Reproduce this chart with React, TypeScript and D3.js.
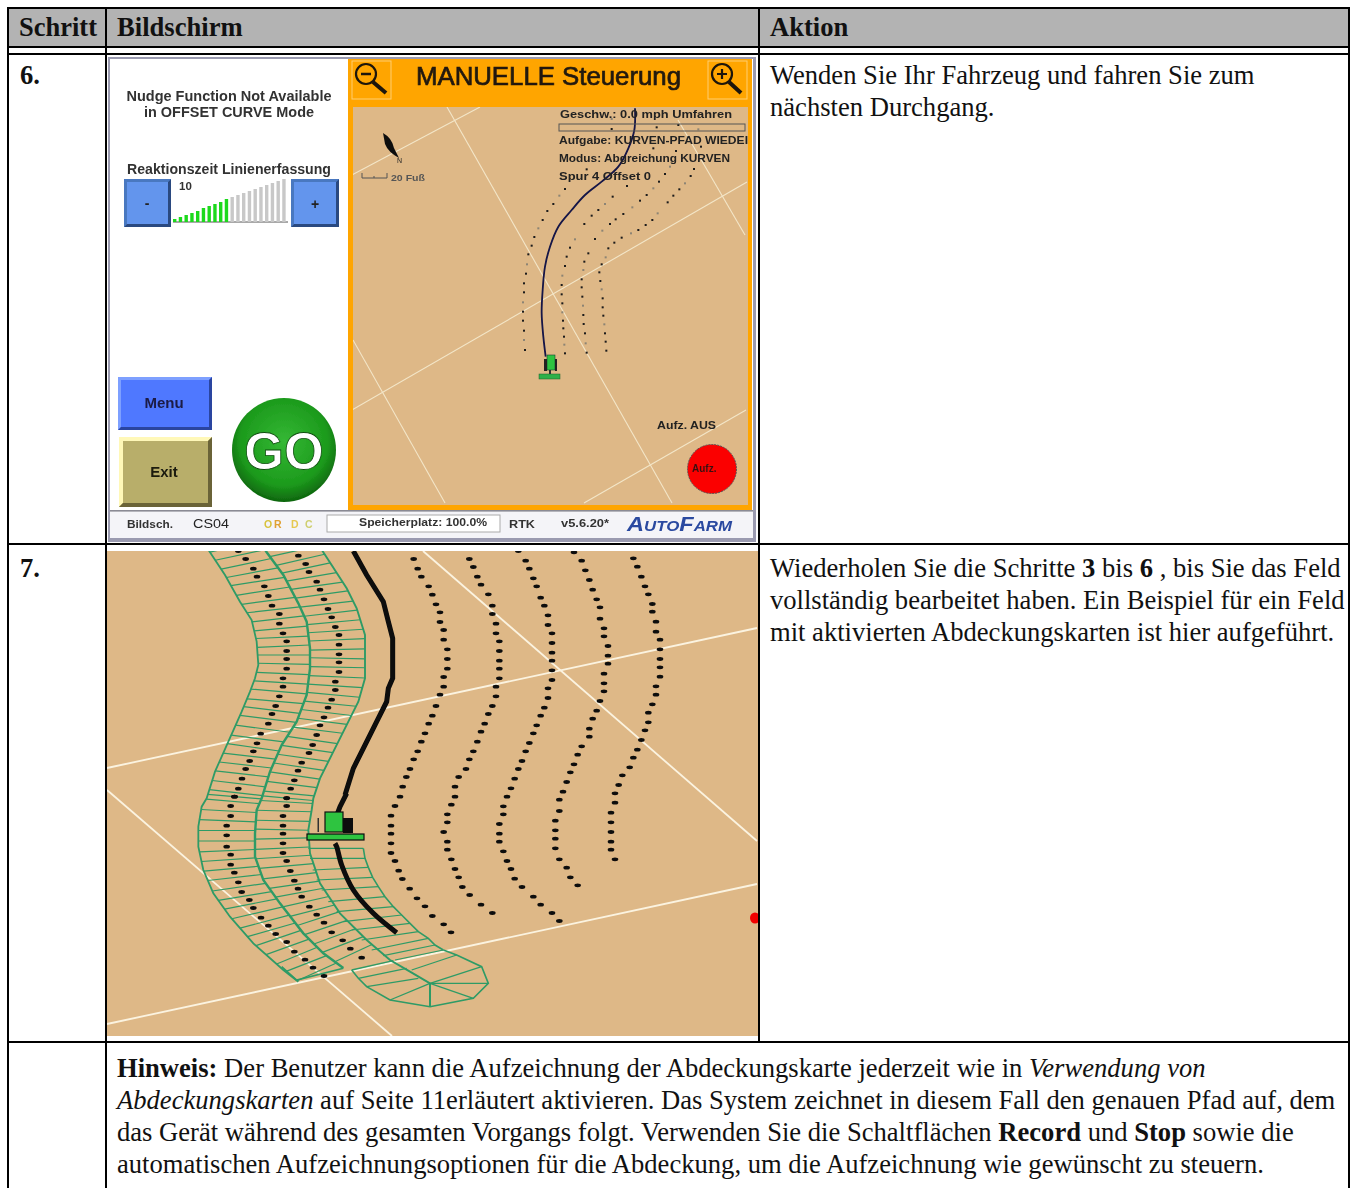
import React from "react";
import * as d3 from "d3";

// ---- table text
const headers = ["Schritt", "Bildschirm", "Aktion"];
const stepLabels = ["6.", "7."];
const step6Lines = ["Wenden Sie Ihr Fahrzeug und fahren Sie zum", "nächsten Durchgang."];

type P = [number, number];
const fieldA: P[] = [[700,40],[712,65],[724,95],[735,124],[745,148],[757,177],[757,200],[768,230],[768,260],[780,284],[780,313],[780,342],[780,367],[780,395],[768,424],[768,449],[757,478],[745,503],[745,532],[735,556],[724,585],[712,614],[700,638],[689,667],[667,691],[656,720],[645,745],[645,773],[633,803],[633,832],[633,861],[633,890],[633,914],[645,943]];
const fieldB: P[] = [[522,22],[545,47],[556,76],[568,105],[578,134],[590,163],[600,187],[600,221],[612,250],[612,274],[624,303],[624,332],[624,356],[612,386],[612,415],[612,439],[600,468],[590,497],[578,521],[568,551],[568,575],[545,604],[533,629],[522,658],[511,682],[500,711],[489,740],[478,764],[478,798],[466,827],[466,856],[466,881],[466,910],[478,943],[500,968],[511,997],[533,1021]];
const fieldC: P[] = [[355,18],[377,47],[388,71],[400,100],[410,124],[422,158],[433,182],[444,211],[444,240],[456,265],[456,294],[456,323],[456,347],[456,376],[456,405],[444,430],[444,459],[433,488],[422,512],[410,541],[400,565],[388,594],[377,619],[366,648],[355,672],[344,701],[333,730],[321,755],[310,784],[310,808],[298,837],[298,866],[298,890],[310,919],[321,948],[333,972],[344,1001],[366,1026],[400,1055],[422,1079],[456,1104],[478,1128]];
const fieldD: P[] = [[208,42],[220,66],[232,95],[243,119],[265,148],[277,182],[277,207],[288,236],[288,265],[298,289],[298,318],[298,347],[298,371],[298,400],[288,425],[288,454],[277,483],[265,507],[254,536],[243,560],[232,590],[220,619],[208,643],[198,672],[176,696],[165,725],[165,755],[154,779],[142,808],[142,832],[131,861],[142,890],[142,914],[154,943],[165,972],[176,997],[187,1026],[209,1050],[243,1079],[277,1104]];
const fieldE: P[] = [[41,42],[53,71],[64,95],[86,124],[97,149],[108,178],[120,202],[120,231],[131,255],[131,284],[142,313],[142,342],[142,371],[131,396],[131,425],[120,449],[108,483],[97,512],[86,536],[75,565],[64,590],[53,619],[41,643],[30,672],[19,696],[8,725],[0,755]];
const fieldELower: P[] = [[645,48],[633,77],[633,107],[633,131],[633,160],[633,189],[645,213],[656,242],[667,267],[689,296],[711,325],[735,349],[757,378],[791,403],[813,427]];

const passOneTop: P[] = [[395,-10],[415,18],[437,42],[460,71],[471,95],[493,124],[505,153],[516,182],[538,207],[538,236],[549,265],[560,289],[560,318],[560,342],[560,371],[549,400],[549,425],[538,454],[527,483],[516,507],[505,536],[482,566],[471,595],[460,619],[449,648],[437,672],[426,701],[415,731],[404,755]];
const passOneLow: P[] = [[163,20],[152,48],[152,78],[140,107],[140,136],[140,170],[152,194],[152,224],[163,248],[175,277],[185,306],[208,330],[220,354],[243,383],[265,407],[287,432],[320,456],[343,485],[375,509],[399,533],[432,558]];
const passTwoTop: P[] = [[570,5],[595,32],[617,57],[627,81],[650,110],[660,134],[672,163],[684,192],[695,217],[706,246],[717,270],[717,299],[717,328],[717,352],[717,381],[706,410],[706,435],[695,464],[684,488],[672,517],[660,541],[650,570],[638,600],[627,624],[605,653],[594,677],[583,706],[572,731],[560,760]];
const passTwoLow: P[] = [[320,24],[320,48],[309,78],[309,107],[309,131],[309,160],[309,189],[320,213],[331,243],[343,272],[354,296],[365,320],[388,350],[410,374],[432,398],[455,427],[488,451],[511,476],[545,503]];

const leftEdgeTop: P[] = [[310,-10],[330,22],[375,90],[420,170],[455,225],[470,290],[475,360],[465,400],[450,440],[425,500],[385,590],[345,680],[320,760]];
const leftEdgeLow: P[] = [[65,50],[55,110],[55,170],[70,240],[100,310],[150,380],[220,460],[310,540],[355,575]];
const midEdgeTop: P[] = [[480,-10],[500,22],[550,90],[595,175],[620,230],[630,310],[630,370],[620,450],[590,530],[545,600],[510,680],[485,760]];
const midEdgeLow: P[] = [[230,60],[225,130],[225,200],[250,270],[300,340],[370,430],[430,490],[490,534]];
const rightEdgeTop: P[] = [[650,-10],[670,22],[740,130],[770,190],[795,270],[795,400],[775,470],[745,530],[700,620],[660,700],[640,760]];
const rightEdgeLow: P[] = [[395,60],[385,120],[390,190],[420,280],[480,370],[560,450],[630,510],[690,545],[750,580]];

const passThreeIn: P[] = [[385,175],[390,205],[398,240],[410,270],[425,300],[445,335],[470,365],[490,395],[515,420],[545,450],[575,480],[610,497],[645,510]];
const passThreeOut: P[] = [[550,175],[555,205],[565,232],[578,262],[595,290],[615,320],[640,350],[665,375],[690,400],[715,425],[745,445],[765,465],[790,480]];

// tail of the coverage, crop at (280,900)
const tailOutline: P[] = [[215,210],[235,235],[260,260],[330,300],[450,320],[580,295],[625,250],[605,200],[530,165],[490,150]];
const tailHub: P = [450, 250];
const tailSpokes: P[] = [[330,300],[450,320],[580,295],[625,250],[605,200]];
const tailRungs: [P, P][] = [[[215,210],[340,182]],[[235,235],[380,205]],[[260,260],[415,235]],[[395,210],[530,165]]];
const passOneEnd: P[] = [[5,200],[50,240],[190,205]];

const trackTop: P[] = [[760,18],[800,90],[850,170],[865,230],[878,280],[878,400],[865,430],[860,470],[830,530],[790,610],[760,670],[735,750]];
const trackMid: P[] = [[500,10],[480,50],[465,90]];
const trackLow: P[] = [[465,160],[470,170],[485,225],[520,300],[580,370],[650,428]];

const bigLines: [P, P][] = [[[107,768],[757,628]],[[423,551],[757,841]],[[107,1024],[757,884]],[[107,790],[392,1036]]];

// ---- first screen
const smallDotsA: P[] = [[660,417],[643,437],[625,462],[607,483],[593,510],[580,535],[568,561],[560,587],[550,613],[546,643],[543,671],[537,700],[537,727],[534,757],[534,785],[534,812],[537,842],[537,870],[540,900]];
const smallDotsB: P[] = [[846,408],[803,440],[780,462],[760,480],[740,497],[718,522],[690,568],[675,593],[665,620],[660,648],[652,677],[650,705],[650,733],[652,760],[652,787],[654,812],[655,835],[657,860],[658,884],[660,910]];
const smallDotsC: P[] = [[905,435],[885,452],[862,472],[835,492],[812,508],[795,522],[772,542],[750,567],[730,610],[718,635],[715,660],[710,688],[710,712],[712,740],[714,767],[715,795],[716,822],[720,850],[722,880],[725,908]];
const smallDotsD: P[] = [[1047,357],[1037,378],[1020,400],[1003,418],[985,437],[968,457],[938,490],[922,510],[902,525],[880,540],[858,550],[830,563],[808,578],[790,595],[782,622],[770,643],[763,667],[766,693],[770,718],[773,745],[773,772],[775,797],[778,823],[780,850],[782,875],[784,902]];
const smallDotsExtra: P[] = [[800,207],[800,237],[935,232],[1000,225],[1060,238],[925,295],[1068,290],[993,303],[975,350],[725,358],[960,372],[942,395],[925,415]];
const smallPath: P[] = [[870,175],[868,240],[850,295],[820,350],[770,395],[720,435],[680,480],[640,530],[615,590],[600,650],[593,720],[590,790],[595,860],[602,920]];
const smallLines: [P, P][] = [[[447,107],[672,503]],[[480,107],[352,175]],[[353,340],[445,503]],[[352,410],[747,182]],[[678,120],[745,235]],[[584,503],[746,410]]];
const sliderHeights = [3,5,7,9,11,14,16,18,20,23,25,27,29,31,33,35,37,39,41,43];
const sliderGreen = 10;

const sand = "#deb887";
const swath = "#2e9b66";

const fromCrop = (x0: number, y0: number) => {
  const x = d3.scaleLinear().domain([0, 3]).range([x0, x0 + 1]);
  const y = d3.scaleLinear().domain([0, 3]).range([y0, y0 + 1]);
  return (p: P): P => [x(p[0]), y(p[1])];
};
const crop4 = fromCrop(100, 545);
const crop5 = fromCrop(180, 790);
const crop6 = fromCrop(400, 545);
const crop2 = fromCrop(345, 50);
const crop7 = fromCrop(280, 900);

const lineGen = d3.line<P>().x((d) => d[0]).y((d) => d[1]);
const curveGen = d3.line<P>().x((d) => d[0]).y((d) => d[1]).curve(d3.curveCatmullRom);

const edgeX = (edge: P[]) => d3.scaleLinear().domain(edge.map((p) => p[1])).range(edge.map((p) => p[0])).clamp(true);

// cross bars between two edges, one between each pair of recorded centre dots
function rungs(dots: P[], leftE: P[], rightE: P[]): [P, P][] {
  const lx = edgeX(leftE);
  const rx = edgeX(rightE);
  const out: [P, P][] = [];
  for (let i = 0; i < dots.length - 1; i++) {
    const p0 = dots[Math.max(0, i - 2)];
    const p1 = dots[Math.min(dots.length - 1, i + 3)];
    const s = (p1[0] - p0[0]) / (p1[1] - p0[1] || 1);
    const t = 7.3 * s;
    const y = (dots[i][1] + dots[i + 1][1]) / 2;
    out.push([[lx(y + t), y + t], [rx(y - t), y - t]]);
  }
  return out;
}

const Bevel = ({ x, y, w, h, fill, light, dark, b = 3 }: any) => (
  <g>
    <rect x={x} y={y} width={w} height={h} fill={fill} />
    <polygon points={`${x},${y} ${x + w},${y} ${x + w - b},${y + b} ${x + b},${y + b} ${x + b},${y + h - b} ${x},${y + h}`} fill={light} />
    <polygon points={`${x + w},${y + h} ${x},${y + h} ${x + b},${y + h - b} ${x + w - b},${y + h - b} ${x + w - b},${y + b} ${x + w},${y}`} fill={dark} />
  </g>
);

const Scr = ({ x, y, s = 12, w = "bold", a, fill = "#222", children, len }: any) => (
  <text x={x} y={y} fontFamily="'Liberation Sans', Arial, sans-serif" fontSize={s} fontWeight={w} textAnchor={a} fill={fill} textLength={len} lengthAdjust={len ? "spacingAndGlyphs" : undefined}>{children}</text>
);

function Screen1() {
  const dots = [smallDotsA, smallDotsB, smallDotsC, smallDotsD, smallDotsExtra].flat().map(crop2);
  const path = smallPath.map(crop2);
  const x = d3.scaleLinear().domain([0, sliderHeights.length]).range([173, 288]);
  return (
    <g filter="url(#blurA)">
      <rect x={108} y={57} width={648} height={485} fill="#9a9ab0" />
      <rect x={110} y={59} width={643} height={479} fill="#fff" />
      <rect x={348} y={59} width={404} height={451} fill="#ffa500" />
      <rect x={353} y={107} width={395} height={398} fill={sand} />
      <rect x={110} y={511} width={643} height={27} fill="#f4f4f8" />
      <rect x={110} y={510} width={643} height={1.6} fill="#8a8a94" />
      <g clipPath="url(#clipSmall)">
        {smallLines.map((l, i) => <path key={i} d={lineGen(l) || ""} stroke="#f3e6c8" strokeWidth={1.1} fill="none" />)}
      </g>
      {dots.map((d, i) => <rect key={i} x={d[0] - 1} y={d[1] - 1} width={2} height={2} fill={i % 4 === 1 ? "#8c8474" : "#1a1a1a"} />)}
      <path d={curveGen(path) || ""} stroke="#141446" strokeWidth={1.8} fill="none" />

      {/* tractor */}
      <rect x={547} y={355} width={8} height={15} fill="#2fc43f" stroke="#143" strokeWidth={0.6} />
      <rect x={544} y={359} width={3} height={12} fill="#222" />
      <rect x={555} y={359} width={2} height={12} fill="#222" />
      <rect x={539} y={374} width={21} height={5} fill="#2fb04a" stroke="#1a5f2a" strokeWidth={0.5} />
      <rect x={549} y={370} width={2} height={4} fill="#333" />

      {/* header */}
      <text x={416} y={85} fontFamily="'Liberation Sans', sans-serif" fontSize={25.5} fill="#221a10" stroke="#221a10" strokeWidth={0.7} textLength={265} lengthAdjust="spacingAndGlyphs">MANUELLE Steuerung</text>
      <g stroke="#ffce70" fill="none"><rect x={352} y={61} width={39} height={38} /><rect x={708} y={61} width={39} height={38} /></g>
      <g stroke="#1c1408" fill="none" strokeWidth={2.2}>
        <circle cx={366} cy={74} r={10} /><path d="M373 82 L386 93" strokeWidth={4} /><path d="M361 74 H371" strokeWidth={2.5} />
        <circle cx={722} cy={74} r={10} /><path d="M729 82 L741 93" strokeWidth={4} /><path d="M717 74 H727 M722 69 V79" strokeWidth={2.2} />
      </g>

      {/* compass and scale */}
      <path d="M383 133 Q392 138 394 148 L399 158 Q388 152 385 144 Z" fill="#111" />
      <Scr x={397} y={163} s={7} w="normal">N</Scr>
      <path d="M362 173 V178 H387 V173 M374 176 V178" stroke="#555" fill="none" />
      <Scr x={391} y={181} s={9.5} fill="#555" len={34}>20 Fuß</Scr>

      {/* overlay */}
      <Scr x={560} y={118} s={11.5} len={172}>Geschw.: 0.0 mph Umfahren</Scr>
      <rect x={559} y={124} width={186} height={7} fill="none" stroke="#555" />
      <Scr x={559} y={144} s={11.5} len={189}>Aufgabe: KURVEN-PFAD WIEDEI</Scr>
      <Scr x={559} y={162} s={11.5} len={171}>Modus: Abgreichung KURVEN</Scr>
      <Scr x={559} y={180} s={11.5} len={92}>Spur 4 Offset 0</Scr>
      <Scr x={657} y={429} s={11.5} len={59}>Aufz. AUS</Scr>
      <circle cx={712} cy={469} r={24.5} fill="#fb0000" stroke="#555" strokeDasharray="2 1" />
      <Scr x={692} y={472} s={10} fill="#3a1010">Aufz.</Scr>

      {/* left column */}
      <Scr x={229} y={101} s={14} a="middle" fill="#333" len={205}>Nudge Function Not Available</Scr>
      <Scr x={229} y={117} s={14} a="middle" fill="#333" len={170}>in OFFSET CURVE Mode</Scr>
      <Scr x={229} y={174} s={14.5} a="middle" fill="#333" len={204}>Reaktionszeit Linienerfassung</Scr>
      <Scr x={179} y={190} s={11.5} w="bold" fill="#333">10</Scr>
      <Bevel x={124} y={179} w={47} h={48} fill="#6495ed" light="#4a78c0" dark="#2a4a80" />
      <Bevel x={291} y={179} w={48} h={48} fill="#6495ed" light="#4a78c0" dark="#2a4a80" />
      <Scr x={147} y={208} s={14} a="middle">-</Scr>
      <Scr x={315} y={209} s={14} a="middle">+</Scr>
      <path d="M173 222 H288" stroke="#555" />
      {sliderHeights.map((h, i) => (
        <rect key={i} x={x(i)} y={222 - h} width={3.4} height={h} fill={i < sliderGreen ? "#1fd91f" : "#c8c8c8"} />
      ))}
      <Bevel x={118} y={377} w={94} h={53} fill="#4f78ff" light="#7ea0ff" dark="#2a44a0" />
      <Scr x={164} y={408} s={15} a="middle" fill="#1a1a44">Menu</Scr>
      <Bevel x={119} y={437} w={93} h={70} fill="#b8ae6a" light="#fff8b8" dark="#6a6438" b={4} />
      <Scr x={164} y={477} s={15} a="middle" fill="#1a1a10">Exit</Scr>

      {/* GO */}
      <circle cx={284} cy={450} r={52} fill="url(#goFill)" />
      <text x={284} y={469} textAnchor="middle" fontFamily="'Liberation Sans', sans-serif" fontWeight="bold" fontSize={51} fill="#fff" stroke="#0d4d0d" strokeWidth={0.8}>GO</text>

      {/* status */}
      <Scr x={127} y={528} s={10.5} fill="#333" len={46}>Bildsch.</Scr>
      <Scr x={193} y={528} s={13} w="normal" fill="#222" len={36}>CS04</Scr>
      <Scr x={264} y={528} s={10.5} fill="#d8c23c">O</Scr>
      <Scr x={274} y={528} s={10.5} fill="#e0a030">R</Scr>
      <Scr x={291} y={528} s={10.5} fill="#e6c850">D</Scr>
      <Scr x={305} y={528} s={10.5} fill="#cfcf70">C</Scr>
      <rect x={327} y={515} width={173} height={17} fill="#fff" stroke="#aaa" />
      <Scr x={359} y={526} s={10.5} fill="#333" len={128}>Speicherplatz: 100.0%</Scr>
      <Scr x={509} y={528} s={10.5} fill="#333" len={26}>RTK</Scr>
      <Scr x={561} y={527} s={10} fill="#333" len={48}>v5.6.20*</Scr>
      <text x={627} y={531} fontFamily="'Liberation Sans', sans-serif" fontWeight="bold" fontStyle="italic" fontSize={21} fill="#2a4aa0" textLength={105} lengthAdjust="spacingAndGlyphs">
        A<tspan fontSize={15}>UTO</tspan>F<tspan fontSize={15}>ARM</tspan>
      </text>
    </g>
  );
}

function Screen2() {
  const one = [...passOneTop.map(crop4), ...passOneLow.map(crop5)];
  const two = [...passTwoTop.map(crop4), ...passTwoLow.map(crop5)];
  const left = [...leftEdgeTop.map(crop4), ...leftEdgeLow.map(crop5)];
  const mid = [...midEdgeTop.map(crop4), ...midEdgeLow.map(crop5)];
  const right = [...rightEdgeTop.map(crop4), ...rightEdgeLow.map(crop5)];
  const rOne = rungs(one, left, mid);
  const rTwo = rungs(two, mid, right);
  const inner = passThreeIn.map(crop5);
  const outer = passThreeOut.map(crop5);
  const hub = crop7(tailHub);
  const fieldDots = [fieldA, fieldB, fieldC, fieldD, fieldE].flat().map(crop6).concat(fieldELower.map(crop5));
  const swathDots = [...one.slice(1), ...two.slice(1)];
  return (
    <g filter="url(#blurB)" clipPath="url(#clipBig)">
      <rect x={107} y={551} width={651} height={485} fill={sand} />
      {bigLines.map((l, i) => <path key={i} d={lineGen(l) || ""} stroke="#fbf3e0" strokeWidth={1.8} fill="none" />)}
      <g stroke={swath} fill="none">
        {[...rOne, ...rTwo].map((r, i) => <path key={"r" + i} d={lineGen(r) || ""} strokeWidth={1.2} />)}
        <path d={lineGen(left) || ""} strokeWidth={1.8} />
        <path d={lineGen(mid) || ""} strokeWidth={2.4} />
        <path d={lineGen(right) || ""} strokeWidth={1.9} />
        {inner.map((p, i) => <path key={"c" + i} d={lineGen([p, outer[i]]) || ""} strokeWidth={1.2} />)}
        <path d={lineGen(outer) || ""} strokeWidth={1.6} />
        <path d={lineGen(tailOutline.map(crop7)) || ""} strokeWidth={1.6} />
        <path d={lineGen(passOneEnd.map(crop7)) || ""} strokeWidth={1.6} />
        {tailRungs.map((r, i) => <path key={"t" + i} d={lineGen(r.map(crop7) as P[]) || ""} strokeWidth={1.3} />)}
        {tailSpokes.map((p, i) => <path key={"f" + i} d={lineGen([hub, crop7(p)]) || ""} strokeWidth={i === 1 ? 2 : 1.3} />)}
      </g>
      {[...fieldDots, ...swathDots].map((d, i) => <ellipse key={i} cx={d[0]} cy={d[1]} rx={3.3} ry={1.9} fill="#0c0c0c" />)}
      <g fill="none" stroke="#0a0a0a" strokeWidth={5}>
        <path d={lineGen(trackTop.map(crop4)) || ""} />
        <path d={lineGen(trackMid.map(crop5)) || ""} />
        <path d={curveGen(trackLow.map(crop5)) || ""} />
      </g>
      {/* tractor */}
      <rect x={325} y={812} width={18} height={20} fill="#2fc43f" stroke="#111" strokeWidth={1.2} />
      <rect x={343} y={818} width={10} height={15} fill="#0a0a0a" />
      <rect x={317.5} y={818} width={1.5} height={14} fill="#333" />
      <rect x={307} y={834} width={57} height={6} fill="#2fc43f" stroke="#0c0c0c" strokeWidth={1.2} />
      <ellipse cx={755} cy={918} rx={5} ry={5.5} fill="#f00000" />
    </g>
  );
}

export default function App() {
  const serif = "'Liberation Serif', 'Times New Roman', serif";
  const ts = { fontFamily: serif, fontSize: 26.6, fill: "#111" };
  return (
    <svg width={1353} height={1188} style={{ position: "absolute", left: 0, top: 0, display: "block", background: "#fff" }}>
      <defs>
        <filter id="blurA" x="-2%" y="-2%" width="104%" height="104%"><feGaussianBlur stdDeviation={0.7} /></filter>
        <filter id="blurB" x="-2%" y="-2%" width="104%" height="104%"><feGaussianBlur stdDeviation={0.45} /></filter>
        <clipPath id="clipSmall"><rect x={353} y={107} width={395} height={398} /></clipPath>
        <clipPath id="clipBig"><rect x={107} y={551} width={651} height={485} /></clipPath>
        <radialGradient id="goFill" cx="50%" cy="42%" r="60%">
          <stop offset="0%" stopColor="#35b835" /><stop offset="70%" stopColor="#1c9a1c" /><stop offset="100%" stopColor="#0d5f0d" />
        </radialGradient>
      </defs>

      <rect x={8} y={8} width={1341} height={39} fill="#b3b3b3" />
      <Screen1 />
      <Screen2 />

      <g stroke="#000" strokeWidth={2} fill="none">
        <path d="M8 8 H1350" />
        <path d="M8 47 H1350 M8 54 H1350 M8 544 H1350 M8 1042 H1350" />
        <path d="M8 7 V1188 M106 8 V1188 M759 8 V1042 M1349 7 V1188" />
      </g>

      <g {...ts}>
        <text x={19} y={36} fontWeight="bold" textLength={78} lengthAdjust="spacingAndGlyphs">{headers[0]}</text>
        <text x={117} y={36} fontWeight="bold">{headers[1]}</text>
        <text x={770} y={36} fontWeight="bold">{headers[2]}</text>
        <text x={20} y={84} fontWeight="bold">{stepLabels[0]}</text>
        <text x={20} y={577} fontWeight="bold">{stepLabels[1]}</text>
        <text x={770} y={84}>{step6Lines[0]}</text>
        <text x={770} y={116}>{step6Lines[1]}</text>
        <text x={770} y={577}>Wiederholen Sie die Schritte <tspan fontWeight="bold">3</tspan> bis <tspan fontWeight="bold">6</tspan> , bis Sie das Feld</text>
        <text x={770} y={609}>vollständig bearbeitet haben. Ein Beispiel für ein Feld</text>
        <text x={770} y={641}>mit aktivierten Abdeckungskarten ist hier aufgeführt.</text>
        <text x={117} y={1077}><tspan fontWeight="bold">Hinweis:</tspan> Der Benutzer kann die Aufzeichnung der Abdeckungskarte jederzeit wie in <tspan fontStyle="italic">Verwendung von</tspan></text>
        <text x={117} y={1109}><tspan fontStyle="italic">Abdeckungskarten</tspan> auf Seite 11erläutert aktivieren. Das System zeichnet in diesem Fall den genauen Pfad auf, dem</text>
        <text x={117} y={1141}>das Gerät während des gesamten Vorgangs folgt. Verwenden Sie die Schaltflächen <tspan fontWeight="bold">Record</tspan> und <tspan fontWeight="bold">Stop</tspan> sowie die</text>
        <text x={117} y={1173}>automatischen Aufzeichnungsoptionen für die Abdeckung, um die Aufzeichnung wie gewünscht zu steuern.</text>
      </g>
    </svg>
  );
}
